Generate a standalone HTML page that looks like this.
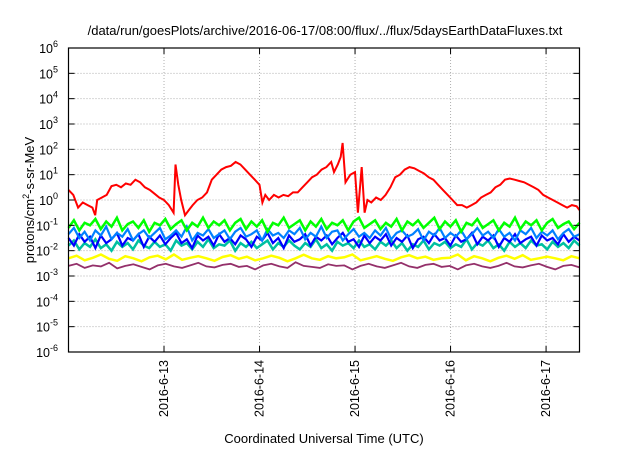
<!DOCTYPE html>
<html><head><meta charset="utf-8"><style>
body{margin:0;background:#fff;font-family:"Liberation Sans",sans-serif;}
</style></head><body>
<svg id="chart" width="640" height="448" xmlns="http://www.w3.org/2000/svg" font-family="Liberation Sans, sans-serif">
<rect width="640" height="448" fill="#fff"/>
<text x="325" y="35" font-size="13" text-anchor="middle">/data/run/goesPlots/archive/2016-06-17/08:00/flux/../flux/5daysEarthDataFluxes.txt</text>
<text x="324" y="443" font-size="13" text-anchor="middle">Coordinated Universal Time (UTC)</text>
<text transform="translate(34,200) rotate(-90)" font-size="13" text-anchor="middle">protons/cm<tspan dy="-5" font-size="9">2</tspan><tspan dy="5">-s-sr-MeV</tspan></text>
<g id="grid"></g><g id="series"></g><g id="axes"></g>
</svg>
<script>
const xTickLabels=["2016-6-13","2016-6-14","2016-6-15","2016-6-16","2016-6-17"];
const xTickDays=[13,14,15,16,17];
const yTickExps=[-6,-5,-4,-3,-2,-1,0,1,2,3,4,5,6];
const redT=[12.00,12.05,12.10,12.15,12.20,12.25,12.28,12.30,12.35,12.40,12.45,12.50,12.55,12.60,12.65,12.70,12.75,12.80,12.85,12.90,12.95,13.00,13.05,13.10,13.12,13.15,13.18,13.22,13.26,13.30,13.35,13.40,13.45,13.50,13.55,13.60,13.65,13.70,13.75,13.80,13.85,13.90,13.95,14.00,14.03,14.06,14.10,14.15,14.20,14.25,14.30,14.35,14.40,14.45,14.50,14.55,14.60,14.65,14.70,14.75,14.78,14.82,14.85,14.87,14.90,14.95,15.00,15.03,15.07,15.10,15.13,15.17,15.22,15.27,15.32,15.37,15.42,15.47,15.52,15.57,15.62,15.67,15.72,15.77,15.82,15.87,15.92,15.97,16.02,16.07,16.12,16.17,16.22,16.27,16.32,16.37,16.42,16.47,16.52,16.57,16.62,16.67,16.72,16.77,16.82,16.87,16.92,16.97,17.02,17.07,17.12,17.17,17.22,17.27,17.32,17.35];
const redV=[0.4,0.2,-0.3,-0.1,-0.2,-0.3,-0.6,0.0,0.1,0.2,0.55,0.6,0.5,0.65,0.6,0.8,0.7,0.5,0.4,0.25,0.1,0.0,-0.2,-0.5,1.4,0.6,0.0,-0.6,-0.4,-0.2,0.0,0.1,0.3,0.8,1.0,1.2,1.3,1.35,1.5,1.4,1.2,1.0,0.8,0.6,-0.1,0.2,0.0,0.2,0.1,0.2,0.15,0.3,0.3,0.5,0.7,0.9,1.0,1.2,1.3,1.5,1.1,1.4,1.7,2.25,0.7,1.0,1.1,-0.5,1.3,-0.5,0.0,-0.1,0.1,0.0,0.2,0.5,0.9,1.0,1.2,1.3,1.25,1.15,1.05,0.9,0.8,0.6,0.4,0.2,0.0,-0.2,-0.2,-0.3,-0.2,-0.1,0.1,0.2,0.3,0.5,0.6,0.8,0.85,0.8,0.75,0.7,0.6,0.5,0.4,0.2,0.1,0.0,-0.1,-0.2,-0.3,-0.2,-0.25,-0.4];
const greenV=[-1.1,-0.8,-1.2,-0.9,-1.0,-0.75,-1.15,-0.85,-1.05,-0.7,-1.2,-0.95,-0.85,-1.1,-0.8,-1.25,-0.9,-1.0,-0.75,-1.15,-0.95,-0.8,-1.2,-0.9,-1.05,-0.7,-1.1,-0.85,-1.0,-0.8,-1.2,-0.9,-0.75,-1.15,-0.85,-1.05,-0.8,-1.25,-0.9,-1.0,-0.7,-1.1,-0.95,-0.8,-1.2,-0.85,-1.05,-0.75,-1.15,-0.9,-1.0,-0.8,-1.2,-0.85,-0.7,-1.1,-0.95,-0.8,-1.15,-0.9,-1.05,-0.75,-1.2,-0.85,-1.0,-0.8,-1.1,-0.9,-0.7,-1.15,-0.85,-1.05,-0.8,-1.25,-0.9,-1.0,-0.75,-1.1,-0.95,-0.8,-1.2,-0.9,-1.05,-0.7,-1.15,-0.85,-1.0,-0.8,-1.2,-0.9,-0.75,-1.1,-0.95,-0.85,-1.15,-0.9];
const teal=[-1.8,-1.6,-1.95,-1.7,-1.85,-1.55,-1.9,-1.75,-2.0,-1.65,-1.85,-1.7,-1.95,-1.6,-1.8,-1.9,-1.65,-1.85,-1.75,-2.0,-1.6,-1.8,-1.7,-1.95,-1.65,-1.85,-1.55,-1.9,-1.75,-1.8,-1.6,-2.0,-1.7,-1.85,-1.65,-1.9,-1.75,-1.6,-1.95,-1.7,-1.85,-1.6,-1.8,-1.95,-1.7,-1.85,-1.55,-1.9,-1.75,-2.0,-1.65,-1.8,-1.7,-1.9,-1.6,-1.85,-1.75,-1.95,-1.65,-1.8,-1.6,-1.9,-1.7,-2.0,-1.75,-1.85,-1.6,-1.95,-1.7,-1.8,-1.65,-1.9,-1.75,-1.85,-1.55,-1.95,-1.7,-1.8,-1.6,-1.9,-1.75,-2.0,-1.65,-1.85,-1.7,-1.9,-1.6,-1.8,-1.75,-1.95,-1.65,-1.85,-1.7,-1.9,-1.6,-1.8];
const darkBlue=[-1.5,-1.8,-1.35,-1.65,-1.45,-1.9,-1.4,-1.7,-1.55,-1.3,-1.8,-1.5,-1.6,-1.35,-1.85,-1.45,-1.65,-1.4,-1.75,-1.5,-1.3,-1.7,-1.55,-1.9,-1.4,-1.6,-1.45,-1.8,-1.35,-1.65,-1.5,-1.75,-1.4,-1.55,-1.85,-1.45,-1.6,-1.3,-1.7,-1.5,-1.9,-1.4,-1.65,-1.55,-1.35,-1.8,-1.45,-1.6,-1.4,-1.75,-1.5,-1.3,-1.65,-1.55,-1.85,-1.4,-1.7,-1.45,-1.6,-1.35,-1.8,-1.5,-1.65,-1.4,-1.9,-1.55,-1.45,-1.7,-1.35,-1.6,-1.5,-1.8,-1.4,-1.65,-1.55,-1.3,-1.75,-1.45,-1.6,-1.4,-1.85,-1.5,-1.65,-1.35,-1.7,-1.55,-1.45,-1.8,-1.4,-1.6,-1.5,-1.75,-1.35,-1.65,-1.45,-1.6];
const lightBlue=[-1.35,-1.1,-1.5,-1.25,-1.6,-1.2,-1.4,-1.05,-1.55,-1.3,-1.45,-1.15,-1.6,-1.35,-1.2,-1.5,-1.3,-1.1,-1.55,-1.4,-1.2,-1.45,-1.05,-1.6,-1.3,-1.4,-1.15,-1.5,-1.35,-1.2,-1.55,-1.25,-1.1,-1.45,-1.35,-1.2,-1.6,-1.15,-1.4,-1.3,-1.5,-1.2,-1.35,-1.1,-1.55,-1.3,-1.45,-1.05,-1.5,-1.25,-1.2,-1.6,-1.35,-1.15,-1.45,-1.3,-1.5,-1.2,-1.4,-1.1,-1.55,-1.3,-1.2,-1.45,-1.35,-1.15,-1.6,-1.25,-1.4,-1.1,-1.5,-1.3,-1.45,-1.2,-1.55,-1.35,-1.1,-1.4,-1.25,-1.5,-1.15,-1.45,-1.3,-1.6,-1.2,-1.35,-1.1,-1.5,-1.25,-1.4,-1.2,-1.55,-1.3,-1.15,-1.45,-1.35];
const yellowV=[-2.3,-2.2,-2.38,-2.28,-2.15,-2.32,-2.4,-2.22,-2.3,-2.42,-2.26,-2.2,-2.34,-2.15,-2.36,-2.28,-2.22,-2.3,-2.4,-2.25,-2.18,-2.32,-2.24,-2.38,-2.3,-2.2,-2.28,-2.42,-2.3,-2.16,-2.3,-2.36,-2.22,-2.3,-2.26,-2.15,-2.38,-2.3,-2.22,-2.32,-2.4,-2.26,-2.18,-2.3,-2.24,-2.36,-2.3,-2.28,-2.15,-2.38,-2.22,-2.3,-2.42,-2.28,-2.2,-2.32,-2.18,-2.36,-2.3,-2.24,-2.3,-2.38,-2.22,-2.3];
const purpleV=[-2.6,-2.52,-2.68,-2.58,-2.62,-2.48,-2.7,-2.6,-2.54,-2.64,-2.74,-2.58,-2.52,-2.62,-2.68,-2.58,-2.48,-2.62,-2.66,-2.56,-2.52,-2.64,-2.6,-2.74,-2.58,-2.52,-2.62,-2.68,-2.46,-2.6,-2.64,-2.68,-2.54,-2.6,-2.58,-2.74,-2.6,-2.52,-2.62,-2.68,-2.58,-2.48,-2.62,-2.68,-2.56,-2.52,-2.64,-2.6,-2.74,-2.58,-2.52,-2.62,-2.68,-2.6,-2.48,-2.62,-2.66,-2.58,-2.52,-2.64,-2.74,-2.6,-2.56,-2.66];

const L=68.5,R=579.5,T=48,B=352,D0=12.0,D1=17.35;
const xs=d=>L+(d-D0)/(D1-D0)*(R-L);
const ys=e=>B-(e+6)/12*(B-T);
const NS="http://www.w3.org/2000/svg";
function mk(tag,attrs,parent){const el=document.createElementNS(NS,tag);for(const k in attrs)el.setAttribute(k,attrs[k]);parent.appendChild(el);return el;}
const grid=document.getElementById('grid'),axes=document.getElementById('axes'),ser=document.getElementById('series');
yTickExps.forEach(e=>{
  const y=ys(e);
  if(e>-6&&e<6){const g=mk('line',{x1:L,x2:R,y1:y,y2:y,stroke:'#b0b0b0','stroke-dasharray':'1,2','stroke-width':1},grid);
  
  }
  const t1=mk('line',{x1:L,x2:L+6,y1:y,y2:y,stroke:'#000'},axes);
  
  
  mk('line',{x1:R-6,x2:R,y1:y,y2:y,stroke:'#000'},axes);
  const tx=mk('text',{x:58,y:y+5,'font-size':12.5,'text-anchor':'end'},axes);
  
  
  tx.innerHTML='10<tspan dy="-6" font-size="9">'+e+'</tspan>';
});
xTickDays.forEach((d,i)=>{
  const x=xs(d);
  const g=mk('line',{x1:x,x2:x,y1:T,y2:B,stroke:'#b0b0b0','stroke-dasharray':'1,2'},grid);
  
  
  mk('line',{x1:x,x2:x,y1:B,y2:B-6,stroke:'#000'},axes);
  mk('line',{x1:x,x2:x,y1:T,y2:T+6,stroke:'#000'},axes);
  const tx=mk('text',{transform:'translate('+(x+4)+',360) rotate(-90)','font-size':12.5,'text-anchor':'end'},axes);
  
  
  tx.textContent=xTickLabels[i];
});
const frame=mk('rect',{x:L,y:T,width:R-L,height:B-T,fill:'none',stroke:'#000','stroke-width':1.2},axes);


function line(ts,vs,color,name,w){
  const pts=vs.map((v,i)=>xs(ts?ts[i]:D0+i*(D1-D0)/(vs.length-1)).toFixed(1)+','+ys(v).toFixed(1)).join(' ');
  const p=mk('polyline',{points:pts,fill:'none',stroke:color,'stroke-width':w,'stroke-linejoin':'miter'},ser);
  
  
}
line(null,purpleV,'#94306a','series-purple',1.8);
line(null,yellowV,'#ffff00','series-yellow',2.5);
line(null,teal,'#00c0a0','series-teal',2.5);
line(null,darkBlue,'#0000ff','series-dark-blue',2.2);
line(null,lightBlue,'#0080ff','series-light-blue',2.2);
line(null,greenV,'#00ff00','series-green',2.5);
line(redT,redV,'#ff0000','series-red',2);
</script>
</body></html>
